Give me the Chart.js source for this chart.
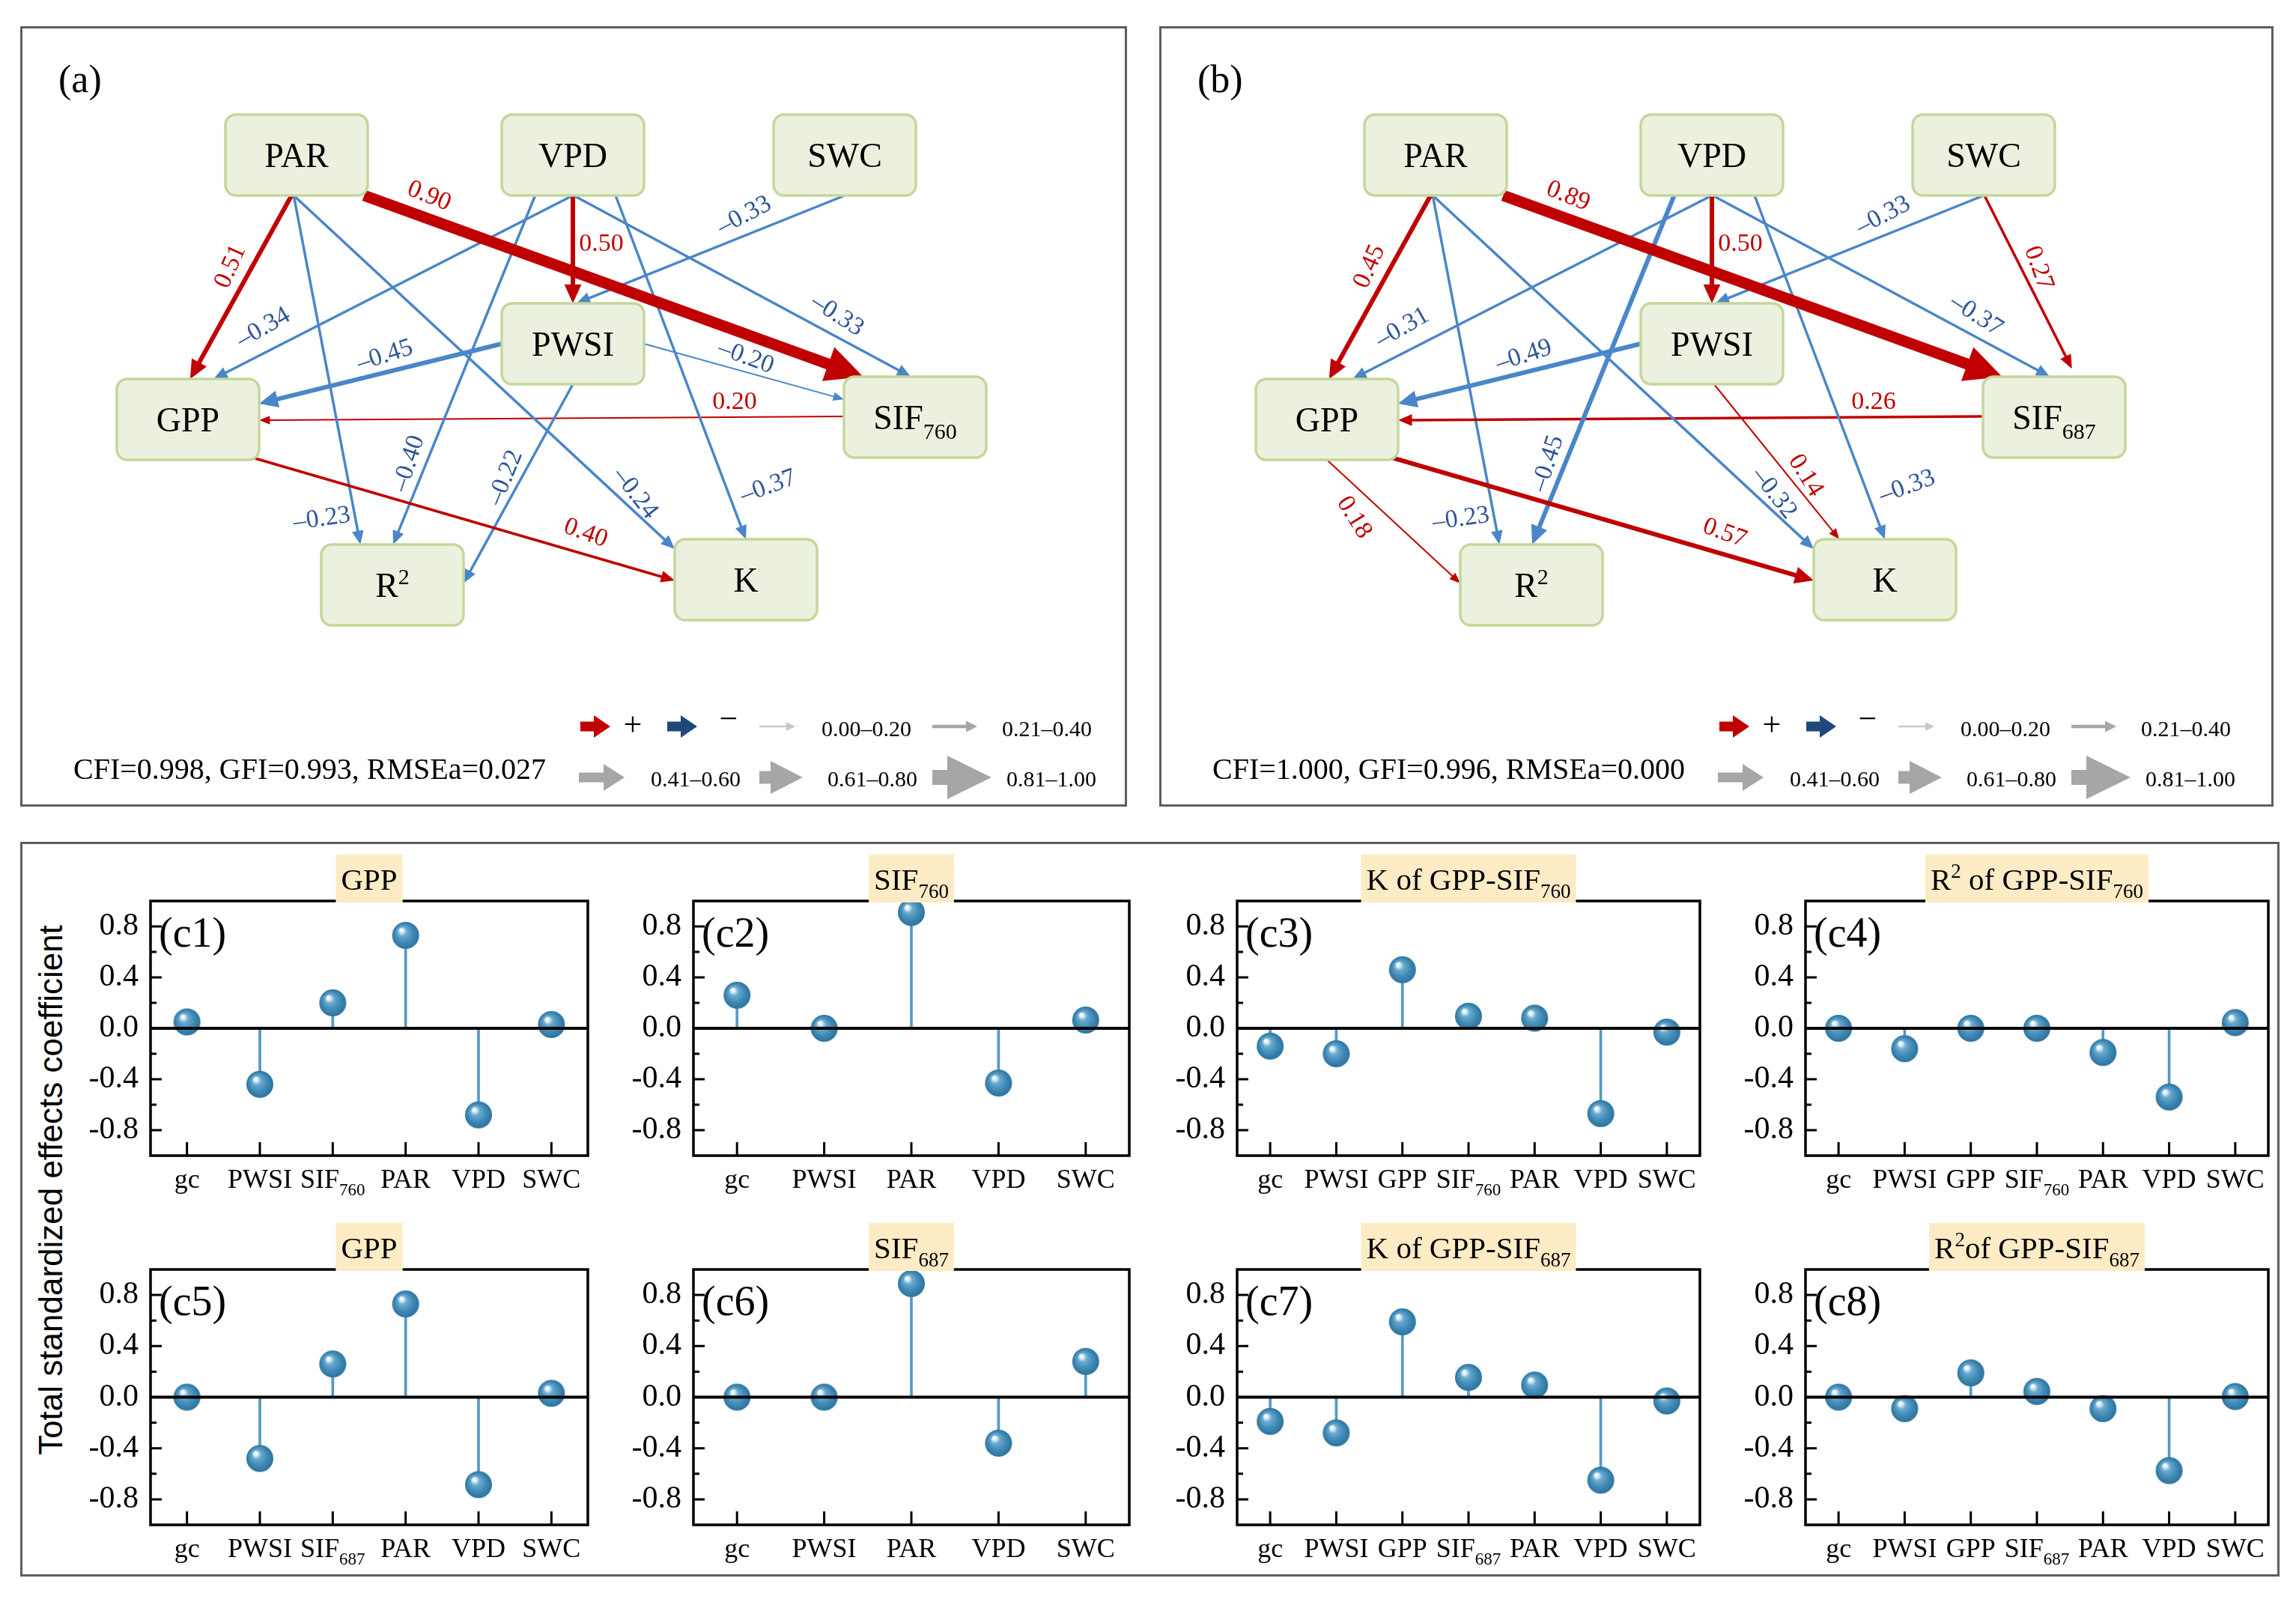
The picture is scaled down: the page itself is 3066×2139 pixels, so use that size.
<!DOCTYPE html>
<html>
<head>
<meta charset="utf-8">
<script src="https://cdn.jsdelivr.net/npm/chart.js@4.4.0/dist/chart.umd.min.js"></script>
<style>
  body { margin: 0; background: #fff; width: 3066px; height: 2139px; position: relative; overflow: hidden; }
  canvas { position: absolute; }
  .frame { position: absolute; border: 3px solid #5e5e5e; box-sizing: border-box; pointer-events: none; }
  #ytitle { position: absolute; left: 68px; top: 1589px; font: 44px 'Liberation Sans', Arial, sans-serif; color: #000;
            white-space: nowrap; transform: translate(-50%, -50%) rotate(-90deg); }
</style>
</head>
<body>
<canvas id="pa" width="1478" height="1042" style="left:27px;top:35px"></canvas>
<canvas id="pb" width="1488" height="1042" style="left:1548px;top:35px"></canvas>
<div class="frame" style="left:27px;top:35px;width:1478px;height:1042px"></div>
<div class="frame" style="left:1548px;top:35px;width:1488px;height:1042px"></div>
<div class="frame" style="left:27px;top:1124px;width:3017px;height:981px"></div>
<div id="ytitle">Total standardized effects coefficient</div>
<script>
const SERIF = "'Liberation Serif', 'Times New Roman', serif";
Chart.defaults.font.family = SERIF;
Chart.defaults.color = '#000';

// ---------- path models (a) and (b) ----------
const nodeKeys  = ['PAR', 'VPD', 'SWC', 'PWSI', 'GPP', 'SIF', 'R2', 'K'];
const nodeTextA = ['PAR', 'VPD', 'SWC', 'PWSI', 'GPP', 'SIF_760', 'R^2', 'K'];
const nodeTextB = ['PAR', 'VPD', 'SWC', 'PWSI', 'GPP', 'SIF_687', 'R^2', 'K'];

// [from, to, standardized coefficient]
const pathsA = [
  ['PAR', 'SIF', 0.90], ['PAR', 'GPP', 0.51], ['PAR', 'R2', -0.23], ['PAR', 'K', -0.24],
  ['VPD', 'PWSI', 0.50], ['VPD', 'GPP', -0.34], ['VPD', 'R2', -0.40], ['VPD', 'K', -0.37],
  ['VPD', 'SIF', -0.33], ['SWC', 'PWSI', -0.33], ['PWSI', 'GPP', -0.45], ['PWSI', 'SIF', -0.20],
  ['PWSI', 'R2', -0.22], ['SIF', 'GPP', 0.20], ['GPP', 'K', 0.40]
];
const pathsB = [
  ['PAR', 'SIF', 0.89], ['PAR', 'GPP', 0.45], ['PAR', 'R2', -0.23], ['PAR', 'K', -0.32],
  ['VPD', 'PWSI', 0.50], ['VPD', 'GPP', -0.31], ['VPD', 'R2', -0.45], ['VPD', 'K', -0.33],
  ['VPD', 'SIF', -0.37], ['SWC', 'PWSI', -0.33], ['SWC', 'SIF', 0.27], ['PWSI', 'GPP', -0.49],
  ['PWSI', 'K', 0.14], ['SIF', 'GPP', 0.26], ['GPP', 'K', 0.57], ['GPP', 'R2', 0.18]
];
const fitA = 'CFI=0.998, GFI=0.993, RMSEa=0.027';
const fitB = 'CFI=1.000, GFI=0.996, RMSEa=0.000';
const widthClasses = ['0.00–0.20', '0.21–0.40', '0.41–0.60', '0.61–0.80', '0.81–1.00'];

// ---------- total standardized effects (c1)-(c8) ----------
const catsC1 = ['gc', 'PWSI', 'SIF_760', 'PAR', 'VPD', 'SWC'];
const catsC2 = ['gc', 'PWSI', 'PAR', 'VPD', 'SWC'];
const catsC3 = ['gc', 'PWSI', 'GPP', 'SIF_760', 'PAR', 'VPD', 'SWC'];
const catsC5 = ['gc', 'PWSI', 'SIF_687', 'PAR', 'VPD', 'SWC'];
const catsC7 = ['gc', 'PWSI', 'GPP', 'SIF_687', 'PAR', 'VPD', 'SWC'];
const effC1 = [0.05, -0.44, 0.20, 0.73, -0.68, 0.03];
const effC2 = [0.26, 0.00, 0.91, -0.43, 0.065];
const effC3 = [-0.14, -0.20, 0.46, 0.095, 0.08, -0.67, -0.03];
const effC4 = [0.00, -0.16, 0.00, 0.00, -0.19, -0.54, 0.045];
const effC5 = [0.00, -0.48, 0.26, 0.73, -0.685, 0.03];
const effC6 = [0.00, 0.00, 0.89, -0.36, 0.28];
const effC7 = [-0.19, -0.28, 0.59, 0.155, 0.095, -0.65, -0.03];
const effC8 = [0.00, -0.09, 0.19, 0.045, -0.09, -0.575, 0.005];
const effTitles = ['GPP', 'SIF_760', 'K of GPP-SIF_760', 'R^2 of GPP-SIF_760',
                   'GPP', 'SIF_687', 'K of GPP-SIF_687', 'R^2of GPP-SIF_687'];
const yTicks = [-0.8, -0.4, 0, 0.4, 0.8];
const yMinor = [-0.6, -0.2, 0.2, 0.6];

// ---------- layout ----------
const nodeXY = { PAR: [369, 172], VPD: [738, 172], SWC: [1101, 172], PWSI: [738, 424],
                 GPP: [224, 525], SIF: [1195, 522], R2: [497, 746], K: [969, 739] };
const BOX_W = 190, BOX_H = 108;
// attachment points on the boxes, in half-box units
const anchors = {
  'PAR>SIF': [[0.95, 1], [-0.73, -1]], 'PAR>GPP': [[-0.07, 1], [0.03, -1]],
  'PAR>R2': [[-0.04, 1], [-0.45, -1]], 'PAR>K': [[-0.04, 1], [-1, -0.76]],
  'VPD>PWSI': [[0, 1], [0, -1]], 'VPD>GPP': [[0, 1], [0.36, -1]],
  'VPD>R2': [[-0.53, 1], [0.01, -1]], 'VPD>K': [[0.6, 1], [0, -1]],
  'VPD>SIF': [[0.01, 1], [-0.06, -1]], 'SWC>PWSI': [[0, 1], [0.05, -1]],
  'SWC>SIF': [[0.01, 1], [0.25, -1.2]], 'PWSI>GPP': [[-1, 0], [1, -0.39]],
  'PWSI>SIF': [[1, 0], [-1, -0.44]], 'PWSI>R2': [[0, 1], [1, -0.04]],
  'PWSI>K': [[0.03, 1], [-0.64, -1]], 'SIF>GPP': [[-1, -0.02], [1, 0.02]],
  'GPP>K': [[0.88, 0.93], [-1, 0.02]], 'GPP>R2': [[0, 1], [-1, -0.04]]
};
// coefficient label position [x, y, rotation deg]
const labelAt = {
  'PAR>SIF': [546, 227, 22], 'PAR>GPP': [281, 321, -66], 'PAR>R2': [403, 658, -8],
  'PAR>K': [821, 624, 52], 'VPD>PWSI': [776, 291, 0], 'VPD>GPP': [325, 403, -30],
  'VPD>R2': [519, 584, -72], 'VPD>K': [999, 615, -20], 'VPD>SIF': [1091, 386, 33],
  'SWC>PWSI': [967, 253, -28], 'SWC>SIF': [1174, 323, 70], 'PWSI>GPP': [487, 440, -18],
  'PWSI>SIF': [969, 442, 20], 'PWSI>R2': [648, 603, -68], 'PWSI>K': [863, 600, 58],
  'SIF>GPP': [954, 502, 0], 'GPP>K': [755, 677, 20], 'GPP>R2': [260, 656, 58]
};
const lineW = [2, 3.5, 6, 10, 15];
const RED = '#c00000', BLUE = '#4a86c8', RED_TXT = '#c00000', BLUE_TXT = '#2f5597';
const STEM = '#5499c5';

const plotL = [201, 926, 1652, 2411], plotR = [792, 1515, 2277, 3036];
const plotT = [1203, 1695], plotB = [1543, 2036];

// ---------- helpers ----------
function richParts(str) {
  return str.split(/(\^\d+|_\d+)/).filter(s => s).map(s =>
    s[0] === '^' ? { t: s.slice(1), k: 'sup' } : s[0] === '_' ? { t: s.slice(1), k: 'sub' } : { t: s, k: '' });
}
function richWidth(ctx, str, size) {
  let w = 0;
  richParts(str).forEach(p => {
    ctx.font = (p.k ? Math.round(size * 0.65) : size) + 'px ' + SERIF;
    w += ctx.measureText(p.t).width;
  });
  return w;
}
function drawRich(ctx, str, x, y, size) {
  const parts = richParts(str);
  let cx = x - richWidth(ctx, str, size) / 2;
  ctx.textAlign = 'left';
  ctx.textBaseline = 'alphabetic';
  parts.forEach(p => {
    ctx.font = (p.k ? Math.round(size * 0.65) : size) + 'px ' + SERIF;
    const dy = p.k === 'sub' ? size * 0.28 : p.k === 'sup' ? -size * 0.38 : 0;
    ctx.fillText(p.t, cx, y + dy);
    cx += ctx.measureText(p.t).width;
  });
}
function arrow(ctx, x0, y0, x1, y1, w, color) {
  const dx = x1 - x0, dy = y1 - y0, len = Math.hypot(dx, dy);
  const ux = dx / len, uy = dy / len;
  const hl = 9 + 2.7 * w, hw = 3 + 1.4 * w;
  const bx = x1 - ux * hl, by = y1 - uy * hl;
  ctx.strokeStyle = color;
  ctx.lineWidth = w;
  ctx.lineCap = 'butt';
  ctx.beginPath();
  ctx.moveTo(x0, y0);
  ctx.lineTo(bx + ux, by + uy);
  ctx.stroke();
  ctx.fillStyle = color;
  ctx.beginPath();
  ctx.moveTo(x1, y1);
  ctx.lineTo(bx - uy * hw, by + ux * hw);
  ctx.lineTo(bx + uy * hw, by - ux * hw);
  ctx.closePath();
  ctx.fill();
}
function blockArrow(ctx, x, y, len, tail, hl, hh, color) {
  ctx.fillStyle = color;
  ctx.beginPath();
  ctx.moveTo(x, y - tail / 2);
  ctx.lineTo(x + len - hl, y - tail / 2);
  ctx.lineTo(x + len - hl, y - hh);
  ctx.lineTo(x + len, y);
  ctx.lineTo(x + len - hl, y + hh);
  ctx.lineTo(x + len - hl, y + tail / 2);
  ctx.lineTo(x, y + tail / 2);
  ctx.closePath();
  ctx.fill();
}
function roundBox(ctx, x, y, w, h, r) {
  ctx.beginPath();
  ctx.moveTo(x + r, y);
  ctx.arcTo(x + w, y, x + w, y + h, r);
  ctx.arcTo(x + w, y + h, x, y + h, r);
  ctx.arcTo(x, y + h, x, y, r);
  ctx.arcTo(x, y, x + w, y, r);
  ctx.closePath();
}
const fmt = v => (v < 0 ? '–' : '') + Math.abs(v).toFixed(2);
const widthClass = v => Math.max(0, Math.min(4, Math.ceil(Math.abs(v) / 0.2 - 1e-9) - 1));

// ---------- path diagram plugin ----------
const pathPlugin = {
  id: 'pathModel',
  afterDatasetsDraw(chart, args, opts) {
    const ctx = chart.ctx;
    const { x, y } = chart.scales;
    const pts = chart.getDatasetMeta(0).data;
    const pos = {};
    nodeKeys.forEach((k, i) => { pos[k] = [pts[i].x, pts[i].y]; });
    const hw = (x.getPixelForValue(BOX_W) - x.getPixelForValue(0)) / 2;
    const hh = (y.getPixelForValue(BOX_H) - y.getPixelForValue(0)) / 2;
    const P = (xv, yv) => [x.getPixelForValue(xv), y.getPixelForValue(yv)];
    ctx.save();

    // paths, thin ones first
    const sorted = opts.paths.slice().sort((a, b) => Math.abs(a[2]) - Math.abs(b[2]));
    sorted.forEach(([f, t, v]) => {
      const an = anchors[f + '>' + t];
      const x0 = pos[f][0] + an[0][0] * hw, y0 = pos[f][1] + an[0][1] * hh;
      const x1 = pos[t][0] + an[1][0] * hw, y1 = pos[t][1] + an[1][1] * hh;
      arrow(ctx, x0, y0, x1, y1, lineW[widthClass(v)], v > 0 ? RED : BLUE);
    });

    // boxes
    nodeKeys.forEach((k, i) => {
      const [cx, cy] = pos[k];
      roundBox(ctx, cx - hw, cy - hh, 2 * hw, 2 * hh, 14);
      ctx.fillStyle = '#ebf1de';
      ctx.fill();
      ctx.lineWidth = 3.5;
      ctx.strokeStyle = '#c4d79b';
      ctx.stroke();
      ctx.fillStyle = '#000';
      drawRich(ctx, opts.nodeText[i], cx, cy + 16, 46);
    });

    // coefficient labels
    ctx.font = '34px ' + SERIF;
    opts.paths.forEach(([f, t, v]) => {
      const [lx, ly, rot] = labelAt[f + '>' + t];
      const [px, py] = P(lx, ly);
      ctx.save();
      ctx.translate(px, py);
      ctx.rotate(rot * Math.PI / 180);
      ctx.fillStyle = v > 0 ? RED_TXT : BLUE_TXT;
      ctx.textAlign = 'center';
      ctx.textBaseline = 'middle';
      ctx.fillText(fmt(v), 0, 0);
      ctx.restore();
    });

    // panel tag and fit indices
    ctx.fillStyle = '#000';
    ctx.textAlign = 'left';
    ctx.textBaseline = 'alphabetic';
    ctx.font = '52px ' + SERIF;
    let p = P(51, 88);
    ctx.fillText(opts.tag, p[0], p[1]);
    ctx.font = '40px ' + SERIF;
    p = P(71, 1005);
    ctx.fillText(opts.fit, p[0], p[1]);

    // legend
    const r1 = 935, r2 = 1003;
    p = P(748, r1); blockArrow(ctx, p[0], p[1], 40, 13, 22, 15, RED);
    p = P(864, r1); blockArrow(ctx, p[0], p[1], 40, 13, 22, 15, '#1f497d');
    ctx.fillStyle = '#000';
    ctx.font = '44px ' + SERIF;
    ctx.textAlign = 'center';
    ctx.textBaseline = 'middle';
    p = P(818, r1); ctx.fillText('+', p[0], p[1]);
    p = P(946, r1 - 8); ctx.fillText('−', p[0], p[1]);
    p = P(987, r1); blockArrow(ctx, p[0], p[1], 48, 2.5, 12, 6, '#c8c8c8');
    p = P(1218, r1); blockArrow(ctx, p[0], p[1], 60, 4.5, 15, 7.5, '#a6a6a6');
    p = P(746, r2); blockArrow(ctx, p[0], p[1], 61, 13, 28, 18, '#a6a6a6');
    p = P(987, r2); blockArrow(ctx, p[0], p[1], 58, 17, 43, 22, '#a6a6a6');
    p = P(1218, r2); blockArrow(ctx, p[0], p[1], 79, 20, 59, 29, '#a6a6a6');
    ctx.fillStyle = '#000';
    ctx.font = '30px ' + SERIF;
    const lx = [[1130, r1 + 5], [1371, r1 + 5], [902, r2 + 4], [1138, r2 + 4], [1377, r2 + 4]];
    widthClasses.forEach((s, i) => { p = P(lx[i][0], lx[i][1]); ctx.fillText(s, p[0], p[1]); });
    ctx.restore();
  }
};

function pathChart(id, nodeText, paths, fit, tag) {
  const cv = document.getElementById(id);
  new Chart(cv, {
    type: 'scatter',
    data: { datasets: [{ data: nodeKeys.map(k => ({ x: nodeXY[k][0], y: nodeXY[k][1] })), pointRadius: 0 }] },
    options: {
      responsive: false, animation: false, devicePixelRatio: 1,
      layout: { padding: 0 },
      plugins: { legend: { display: false }, tooltip: { enabled: false },
                 pathModel: { nodeText, paths, fit, tag } },
      scales: {
        x: { type: 'linear', display: false, min: 0, max: cv.width },
        y: { type: 'linear', display: false, min: 0, max: cv.height, reverse: true }
      }
    },
    plugins: [pathPlugin]
  });
}
pathChart('pa', nodeTextA, pathsA, fitA, '(a)');
pathChart('pb', nodeTextB, pathsB, fitB, '(b)');

// ---------- lollipop panels ----------
function makeBall(r) {
  const c = document.createElement('canvas');
  c.width = c.height = 2 * r + 2;
  const g = c.getContext('2d'), m = r + 1;
  const grd = g.createRadialGradient(m - 0.35 * r, m - 0.42 * r, 0.5, m, m, r);
  grd.addColorStop(0, '#ffffff');
  grd.addColorStop(0.12, '#e4f2f9');
  grd.addColorStop(0.32, '#6aaad0');
  grd.addColorStop(0.65, '#428cb7');
  grd.addColorStop(1, '#2c739d');
  g.fillStyle = grd;
  g.beginPath();
  g.arc(m, m, r, 0, Math.PI * 2);
  g.fill();
  return c;
}
const ball = makeBall(18);

const effectPlugin = {
  id: 'effectFrame',
  afterDatasetsDraw(chart, args, opts) {
    const ctx = chart.ctx, a = chart.chartArea;
    const { x, y } = chart.scales;
    ctx.save();
    // zero line
    ctx.strokeStyle = '#000';
    ctx.lineWidth = 4;
    ctx.beginPath();
    ctx.moveTo(a.left, y.getPixelForValue(0));
    ctx.lineTo(a.right, y.getPixelForValue(0));
    ctx.stroke();
    // ticks
    ctx.lineWidth = 3;
    ctx.beginPath();
    yTicks.forEach(v => { const py = y.getPixelForValue(v); ctx.moveTo(a.left, py); ctx.lineTo(a.left + 15, py); });
    yMinor.forEach(v => { const py = y.getPixelForValue(v); ctx.moveTo(a.left, py); ctx.lineTo(a.left + 8, py); });
    chart.data.labels.forEach((l, i) => { const px = x.getPixelForValue(i); ctx.moveTo(px, a.bottom); ctx.lineTo(px, a.bottom - 18); });
    ctx.stroke();
    // frame
    ctx.lineWidth = 3.5;
    ctx.strokeRect(a.left, a.top, a.right - a.left, a.bottom - a.top);
    // category labels
    ctx.fillStyle = '#000';
    chart.data.labels.forEach((l, i) => drawRich(ctx, l, x.getPixelForValue(i), a.bottom + 43, 36));
    // title with shaded background
    const cx = (a.left + a.right) / 2;
    const tw = richWidth(ctx, opts.title, 41);
    ctx.fillStyle = '#fdebc6';
    ctx.fillRect(cx - tw / 2 - 7, a.top - 62, tw + 14, 64);
    ctx.fillStyle = '#000';
    drawRich(ctx, opts.title, cx, a.top - 15, 41);
    // panel tag
    ctx.font = '56px ' + SERIF;
    ctx.textAlign = 'left';
    ctx.textBaseline = 'middle';
    ctx.fillText(opts.tag, a.left + 11, a.top + 46);
    ctx.restore();
  }
};

function effectChart(n, cats, vals, col, row) {
  const padL = 110, padT = 80, padR = 12, padB = 80;
  const L = plotL[col], R = plotR[col], T = plotT[row], B = plotB[row];
  const cv = document.createElement('canvas');
  cv.width = R - L + padL + padR;
  cv.height = B - T + padT + padB;
  cv.style.left = (L - padL) + 'px';
  cv.style.top = (T - padT) + 'px';
  document.body.appendChild(cv);
  new Chart(cv, {
    type: 'bar',
    data: {
      labels: cats,
      datasets: [
        { type: 'bar', data: vals, backgroundColor: STEM, barThickness: 3, order: 2 },
        { type: 'line', data: vals, showLine: false, pointStyle: ball, pointRadius: 18, clip: false, order: 1 }
      ]
    },
    options: {
      responsive: false, animation: false, devicePixelRatio: 1,
      layout: { padding: { left: 0, top: padT, right: padR, bottom: padB } },
      plugins: { legend: { display: false }, tooltip: { enabled: false },
                 effectFrame: { title: effTitles[n - 1], tag: '(c' + n + ')' } },
      scales: {
        x: { offset: true, grid: { display: false, drawTicks: false }, border: { display: false },
             ticks: { display: false }, afterFit: s => { s.height = 0; } },
        y: { min: -1, max: 1, grid: { display: false, drawTicks: false }, border: { display: false },
             afterFit: s => { s.width = padL; },
             afterBuildTicks: s => { s.ticks = yTicks.map(v => ({ value: v })); },
             ticks: { padding: 16, font: { size: 42 }, color: '#000', callback: v => v.toFixed(1) } }
      }
    },
    plugins: [effectPlugin]
  });
}
effectChart(1, catsC1, effC1, 0, 0);
effectChart(2, catsC2, effC2, 1, 0);
effectChart(3, catsC3, effC3, 2, 0);
effectChart(4, catsC3, effC4, 3, 0);
effectChart(5, catsC5, effC5, 0, 1);
effectChart(6, catsC2, effC6, 1, 1);
effectChart(7, catsC7, effC7, 2, 1);
effectChart(8, catsC7, effC8, 3, 1);
</script>
</body>
</html>
